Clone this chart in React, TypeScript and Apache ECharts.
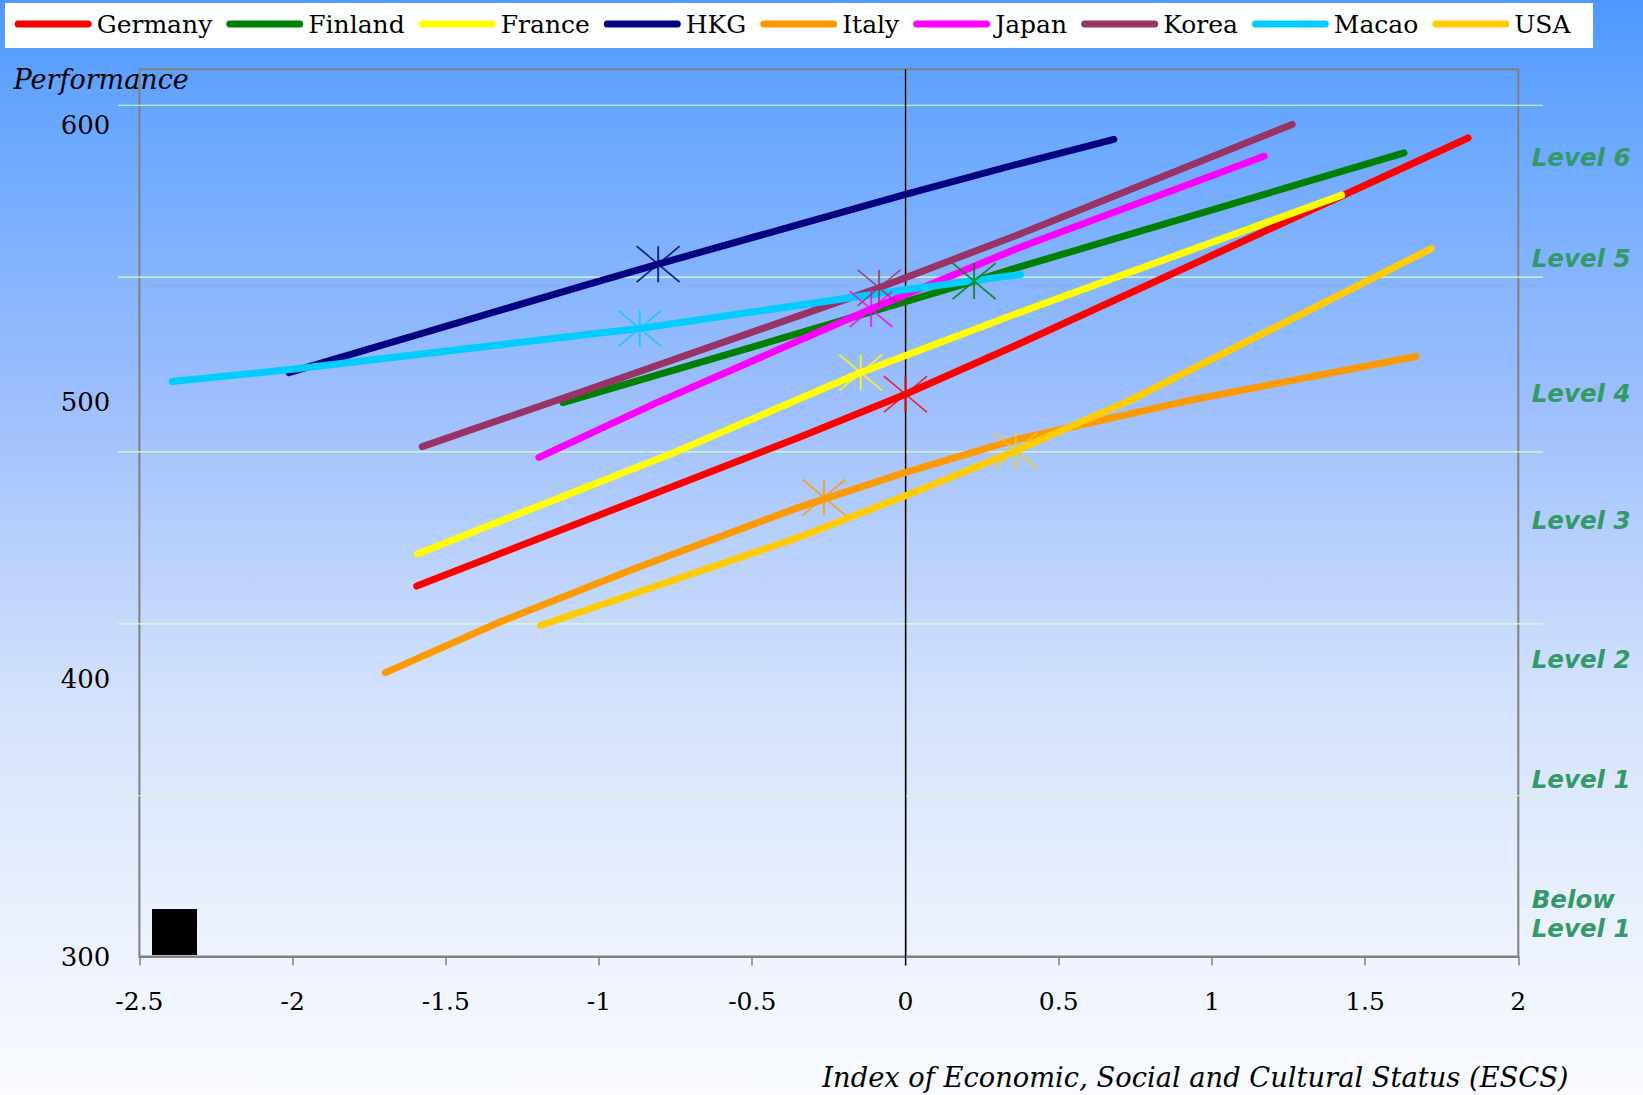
import React, { useEffect, useRef } from "react";
import * as echarts from "echarts";

// Countries in legend order, with their line colours
const countries = ["Germany", "Finland", "France", "HKG", "Italy", "Japan", "Korea", "Macao", "USA"];
const countryColors = ["#FF0000", "#008000", "#FFFF00", "#000080", "#FF9900", "#FF00FF", "#993366", "#00CCFF", "#FFCC00"];

// Socio-economic gradients: [ESCS, performance] along each country's fitted curve
const germanyCurve = [[-1.595, 433.6], [-0.348, 487.2], [0, 502.8], [0.37, 520.9], [1.0, 552.8], [1.836, 595.2]];
const finlandCurve = [[-1.118, 499.8], [-0.5, 519.8], [0, 536.2], [0.224, 543.6], [0.37, 548.6], [1.627, 589.8]];
const franceCurve = [[-1.593, 445.2], [-0.75, 482.0], [-0.146, 510.6], [0.37, 532.2], [1.424, 574.6]];
const hkgCurve = [[-2.012, 510.6], [-1.033, 542.5], [-0.807, 549.7], [0, 574.9], [0.37, 585.9], [0.68, 594.7]];
const italyCurve = [[-1.697, 402.4], [-1.316, 421.0], [-0.881, 440.0], [-0.348, 462.0], [0, 474.6], [0.349, 486.1], [0.92, 500.4], [1.665, 516.4]];
const japanCurve = [[-1.196, 480.0], [-0.815, 499.6], [-0.112, 533.5], [0.37, 555.6], [1.17, 588.6]];
const koreaCurve = [[-1.577, 483.9], [-1.033, 504.6], [-0.086, 541.2], [0.37, 560.4], [1.262, 600.1]];
const macaoCurve = [[-2.393, 507.4], [-2.001, 511.8], [-1.033, 524.4], [-0.867, 526.5], [0, 540.5], [0.376, 546.0]];
const usaCurve = [[-1.191, 419.4], [-0.348, 451.2], [0, 466.2], [0.36, 482.4], [0.729, 500.4], [1.535, 545.2], [1.716, 555.3]];

const countryCurves = [germanyCurve, finlandCurve, franceCurve, hkgCurve, italyCurve, japanCurve, koreaCurve, macaoCurve, usaCurve];

// Country means (marked with an asterisk)
const meanEscs = [0.0, 0.224, -0.146, -0.807, -0.266, -0.112, -0.086, -0.867, 0.36];
const meanPerformance = [502.8, 543.6, 510.6, 549.7, 465.6, 533.5, 541.2, 526.5, 482.4];

// Proficiency level boundaries on the performance scale
const levelBoundaries = [358, 420, 482, 545, 607];
const levelLabels = ["Level 6", "Level 5", "Level 4", "Level 3", "Level 2", "Level 1", "Below\nLevel 1"];

// Layout
const W = 1643;
const H = 1095;
const GRID = { left: 139.4, right: 124.7, top: 69.2, bottom: 138.4 };
const levelLabelTops = [157, 258, 393, 520, 659, 779, 913.5];
const SERIF = '"DejaVu Serif", serif';
const STAR = "path://M0,0L43,36M0,36L43,0M21.5,0L21.5,36";
const LEGEND_ICON = "path://M3.5,0H73.5A3.5,3.5,0,0,1,73.5,7H3.5A3.5,3.5,0,0,1,3.5,0Z";

export default function App() {
  const ref = useRef<HTMLDivElement>(null);

  useEffect(() => {
    const chart = echarts.init(ref.current!, null, { renderer: "svg" });

    const lineSeries = countries.map((name, i) => ({
      name,
      type: "line",
      data: countryCurves[i],
      showSymbol: false,
      symbol: "none",
      smooth: false,
      lineStyle: { color: countryColors[i], width: 7, cap: "round", join: "round" },
      itemStyle: { color: countryColors[i] },
      emphasis: { disabled: true },
      z: 3,
    }));

    const meanSeries = countries.map((name, i) => ({
      name: name + " mean",
      type: "scatter",
      data: [[meanEscs[i], meanPerformance[i]]],
      symbol: STAR,
      symbolSize: [43, 36],
      itemStyle: { color: "transparent", borderColor: countryColors[i], borderWidth: 1.8 },
      emphasis: { disabled: true },
      z: 4,
    }));

    chart.setOption({
      animation: false,
      grid: {
        ...GRID,
        show: true,
        borderColor: "#808080",
        borderWidth: 2,
        backgroundColor: "transparent",
      },
      legend: {
        data: countries,
        left: 14.7,
        top: 11.5,
        padding: 0,
        itemGap: 14,
        itemWidth: 77,
        itemHeight: 7,
        icon: LEGEND_ICON,
        itemStyle: { borderWidth: 0 },
        selectedMode: false,
        textStyle: { fontFamily: SERIF, fontSize: 25, color: "#000" },
      },
      xAxis: {
        type: "value",
        min: -2.5,
        max: 2,
        interval: 0.5,
        axisLine: { show: true, onZero: false, lineStyle: { color: "#808080", width: 2 } },
        axisTick: { show: true, length: 9, lineStyle: { color: "#808080", width: 1.5 } },
        axisLabel: { margin: 32, fontFamily: SERIF, fontSize: 25, color: "#000" },
        splitLine: { show: false },
      },
      yAxis: {
        type: "value",
        min: 300,
        max: 620,
        interval: 100,
        axisLine: { show: true, lineStyle: { color: "#808080", width: 2 } },
        axisTick: { show: false },
        axisLabel: {
          margin: 29,
          fontFamily: SERIF,
          fontSize: 26,
          color: "#000",
          formatter: (v: number) => (v % 100 === 0 ? String(v) : ""),
        },
        splitLine: { show: false },
      },
      series: [...lineSeries, ...meanSeries],
    });

    // Reference lines and annotations placed through the axes' own scales
    const yPx = (v: number) => chart.convertToPixel({ yAxisIndex: 0 }, v) as number;
    const xPx = (v: number) => chart.convertToPixel({ xAxisIndex: 0 }, v) as number;
    const gridTop = GRID.top;
    const gridBottom = H - GRID.bottom;

    const graphic: any[] = [
      // legend panel
      { type: "rect", shape: { x: 5, y: 3, width: 1588, height: 45 }, style: { fill: "#ffffff" }, z: 0 },
      // level boundaries
      ...levelBoundaries.map((v) => ({
        type: "line",
        shape: { x1: 118, y1: yPx(v), x2: 1543, y2: yPx(v) },
        style: { stroke: "#d6ffc2", lineWidth: 1.2 },
        z: 1,
        silent: true,
      })),
      // vertical line at ESCS = 0
      {
        type: "line",
        shape: { x1: xPx(0), y1: gridTop, x2: xPx(0), y2: gridBottom + 9 },
        style: { stroke: "#000000", lineWidth: 1.2 },
        z: 1,
        silent: true,
      },
      // axis titles
      {
        type: "text",
        x: 13.6,
        y: 79.6,
        style: {
          text: "Performance",
          fill: "#000",
          font: `italic 27px ${SERIF}`,
          verticalAlign: "middle",
          align: "left",
        },
      },
      {
        type: "text",
        x: 1568.5,
        y: 1077,
        style: {
          text: "Index of Economic, Social and Cultural Status (ESCS)",
          fill: "#000",
          font: `italic 27.3px ${SERIF}`,
          verticalAlign: "middle",
          align: "right",
        },
      },
      // level names on the right
      ...levelLabels.map((t, i) => ({
        type: "text",
        x: 1531.7,
        y: levelLabelTops[i],
        style: {
          text: t,
          fill: "#339966",
          font: 'italic bold 24.5px "DejaVu Sans", sans-serif',
          lineHeight: 29,
          verticalAlign: "middle",
          align: "left",
        },
      })),
      // small black block in the lower-left corner
      { type: "rect", shape: { x: 152, y: 909, width: 45, height: 46 }, style: { fill: "#000000" }, z: 5 },
    ];

    chart.setOption({ graphic });

    return () => chart.dispose();
  }, []);

  return (
    <div
      style={{
        position: "absolute",
        left: 0,
        top: 0,
        width: W,
        height: H,
        background:
          "linear-gradient(to bottom, #4e98ff 0%, #66a6ff 10%, #9cbefd 36%, #d2e1fc 63%, #e6eefd 80%, #f9fbff 100%)",
      }}
    >
      <div ref={ref} style={{ width: W, height: H }} />
    </div>
  );
}
